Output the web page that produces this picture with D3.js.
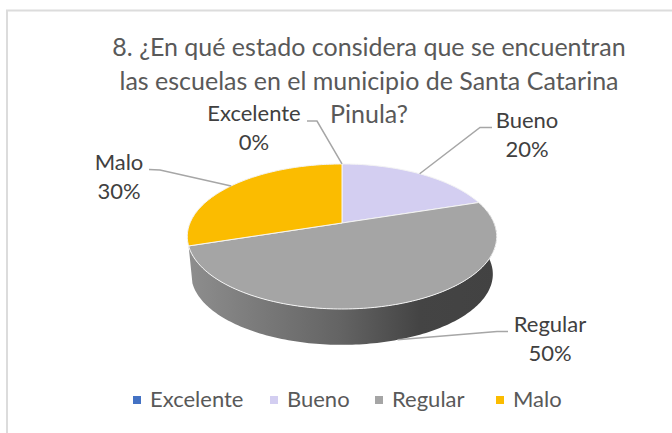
<!DOCTYPE html>
<html>
<head>
<meta charset="utf-8">
<script src="https://d3js.org/d3.v7.min.js"></script>
<style>
    body { margin: 0; background: #fff; }
    svg { display: block; font-family: Lato, sans-serif; }
</style>
</head>
<body>
<svg id="chart"></svg>
<script>
const categories = ['Excelente', 'Bueno', 'Regular', 'Malo'];
const percentages = [0, 20, 50, 30];
const colours = ['#4472c4', '#d3cef1', '#a5a5a5', '#fbbc00'];
const titleLines = [
    '8. ¿En qué estado considera que se encuentran',
    'las escuelas en el municipio de Santa Catarina',
    'Pinula?'
];

const width = 672, height = 433;

// pie centre and the tilt of the disc, fitted against the picture
const cx = 342, cy = 223;
const radiusX = 152, radiusY = 70, tilt = 0.186;
const depth = 38, bottomScale = 0.975;

// label text centre, baseline of first line, and the leader elbow
const labelLayout = {
    Excelente: { x: 254, y: 121, elbow: [317, 121], end: [307, 121] },
    Bueno: { x: 527, y: 128, elbow: [480, 127.5], end: [492, 127.5] },
    Regular: { x: 550, y: 332, elbow: [497, 331.5], end: [508, 331.5] },
    Malo: { x: 119, y: 170, elbow: [160, 170], end: [149, 169.5] }
};

// legend swatch positions
const legendLayout = { Excelente: 133, Bueno: 270, Regular: 375, Malo: 496 };

const svg = d3.select('#chart')
    .attr('width', width)
    .attr('height', height);

const colour = d3.scaleOrdinal().domain(categories).range(colours);

const slices = d3.pie().sort(null).value((d, i) => percentages[i])(categories);

// tilted disc, angle 0 is at the back and goes clockwise
function project(angle, lower) {
    const u = Math.sin(angle), v = Math.cos(angle);
    const w = 1 + tilt * v;
    const x = radiusX * u / w, y = -radiusY * v / w;
    if (lower) return [cx + x * bottomScale, cy + y * bottomScale + depth];
    return [cx + x, cy + y];
}

function rim(start, end, lower) {
    const steps = Math.max(1, Math.ceil((end - start) / 0.02));
    return d3.range(steps + 1).map(i => project(start + (end - start) * i / steps, lower));
}

const line = d3.line();

const defs = svg.append('defs');
const wallGradient = defs.append('linearGradient')
    .attr('id', 'wall')
    .attr('gradientUnits', 'userSpaceOnUse')
    .attr('x1', 187).attr('x2', 497)
    .attr('y1', 0).attr('y2', 0);
wallGradient.append('stop').attr('offset', 0).attr('stop-color', '#8e8e8e');
wallGradient.append('stop').attr('offset', 0.5).attr('stop-color', '#636363');
wallGradient.append('stop').attr('offset', 0.75).attr('stop-color', '#444444');
wallGradient.append('stop').attr('offset', 1).attr('stop-color', '#424242');

// chart frame, only top and left show in the crop
svg.append('path')
    .attr('d', line([[7, height], [7, 10.5], [width, 10.5]]))
    .attr('fill', 'none')
    .attr('stroke', '#dcdcdc')
    .attr('stroke-width', 2);

// side wall of the slices facing the viewer
svg.append('g')
    .selectAll('path')
    .data(slices.filter(d => d.startAngle < Math.PI && d.endAngle > Math.PI))
    .join('path')
    .attr('d', d => line(rim(d.startAngle, d.endAngle, false).concat(rim(d.startAngle, d.endAngle, true).reverse())) + 'Z')
    .attr('fill', 'url(#wall)');

// top face
svg.append('g')
    .selectAll('path')
    .data(slices)
    .join('path')
    .attr('d', d => line([[cx, cy]].concat(rim(d.startAngle, d.endAngle, false))) + 'Z')
    .attr('fill', d => colour(d.data))
    .attr('stroke', '#f4f4f4')
    .attr('stroke-width', 1)
    .attr('stroke-linejoin', 'round');

// leader lines, from the middle of each slice to the label
svg.append('g')
    .selectAll('path')
    .data(slices)
    .join('path')
    .attr('d', d => {
        const l = labelLayout[d.data];
        const mid = (d.startAngle + d.endAngle) / 2;
        const front = Math.cos(mid) < -0.5;
        return line([project(mid, front), l.elbow, l.end]);
    })
    .attr('fill', 'none')
    .attr('stroke', '#a6a6a6')
    .attr('stroke-width', 1.5);

// data labels
const labels = svg.append('g')
    .selectAll('text')
    .data(slices)
    .join('text')
    .attr('text-anchor', 'middle')
    .attr('font-size', 22)
    .attr('fill', '#404040');
labels.append('tspan')
    .attr('x', d => labelLayout[d.data].x)
    .attr('y', d => labelLayout[d.data].y)
    .text(d => d.data);
labels.append('tspan')
    .attr('x', d => labelLayout[d.data].x)
    .attr('y', d => labelLayout[d.data].y + 29)
    .text(d => d.value + '%');

// title
svg.append('g')
    .selectAll('text')
    .data(titleLines)
    .join('text')
    .attr('x', 369)
    .attr('y', (d, i) => 56 + i * 33.5)
    .attr('text-anchor', 'middle')
    .attr('font-size', 25)
    .attr('fill', '#595959')
    .text(d => d);

// legend, swatch then name
const legend = svg.append('g');
categories.forEach(name => {
    legend.append('rect')
        .attr('x', legendLayout[name])
        .attr('y', 396)
        .attr('width', 8)
        .attr('height', 8)
        .attr('fill', colour(name));
    legend.append('text')
        .attr('x', legendLayout[name] + 17)
        .attr('y', 407)
        .attr('font-size', 22)
        .attr('fill', '#595959')
        .text(name);
});
</script>
</body>
</html>
